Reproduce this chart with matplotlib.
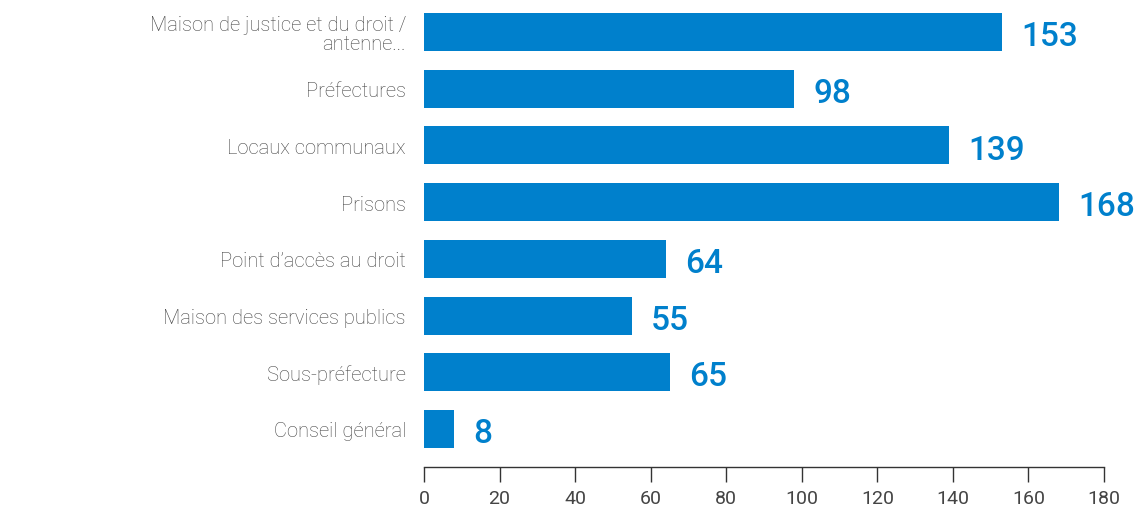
import matplotlib
matplotlib.use('Agg')
import matplotlib.pyplot as plt
from matplotlib import font_manager

categories = ['Maison de justice et du droit /\nantenne...', 'Préfectures', 'Locaux communaux', 'Prisons',
              "Point d’accès au droit", 'Maison des services publics', 'Sous-préfecture', 'Conseil général']
values = [153, 98, 139, 168, 64, 55, 65, 8]
xticks = [0, 20, 40, 60, 80, 100, 120, 140, 160, 180]

BLUE = '#0080cc'
names = {f.name for f in font_manager.fontManager.ttflist}
narrow = 'Liberation Sans Narrow' if 'Liberation Sans Narrow' in names else 'Roboto'

fig = plt.figure(figsize=(11.37, 5.10), dpi=100)
ax = fig.add_axes([424 / 1137, 42 / 510, 680 / 1137, 468 / 510])

pos = list(range(len(categories)))
ax.barh(pos, values, height=0.67, color=BLUE)
ax.set_ylim(7.67, -0.58)
ax.set_xlim(0, 180)

# value labels sit a little under the bar centre in the original
for p, v in zip(pos, values):
    ax.annotate(str(v), (v, p), xytext=(14, -3), textcoords='offset points', va='center', ha='left',
                fontsize=24, color=BLUE, family='Roboto', weight='medium')

ax.set_yticks(pos)
ax.set_yticklabels(categories, fontsize=14.5, family='Roboto', weight='light', color='#444444',
                   linespacing=1.0)
ax.tick_params(axis='y', length=0, pad=13)

ax.set_xticks(xticks)
ax.set_xticklabels([str(t) for t in xticks], fontsize=14, family=narrow, color='#444444')
ax.tick_params(axis='x', length=11, width=1, color='#333333', pad=5, direction='out')

for s in ['top', 'right', 'left']:
    ax.spines[s].set_visible(False)
ax.spines['bottom'].set_color('#333333')
ax.spines['bottom'].set_linewidth(1)

plt.savefig('out.png', dpi=100)
